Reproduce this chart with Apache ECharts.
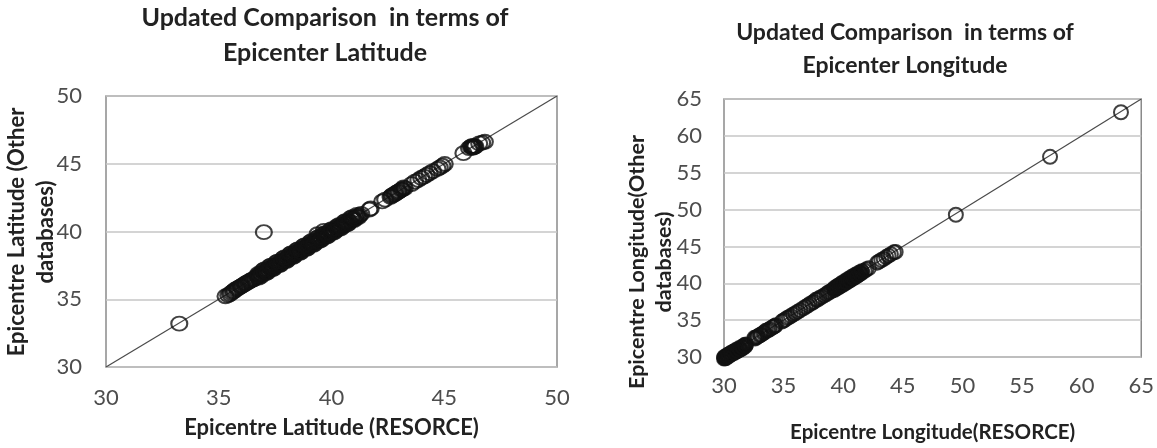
<!DOCTYPE html>
<html>
<head>
<meta charset="utf-8">
<script src="https://cdn.jsdelivr.net/npm/echarts@6/dist/echarts.min.js"></script>
<style>
	html, body {margin: 0; padding: 0; background: #ffffff;}
	#main {width: 1157px; height: 448px;}
</style>
</head>
<body>
<div id="main"></div>
<script>
// latitude comparison (RESORCE vs other databases)
var latResorce = [33.25, 35.30, 35.42, 35.55, 35.63, 35.71, 35.80, 35.88, 35.97, 36.05, 36.14, 36.22, 36.31, 36.40, 36.52, 36.63,
	36.71, 36.76, 36.80, 36.86, 36.91, 36.97, 37.00, 37.03, 37.08, 37.13, 37.18, 37.22, 37.27, 37.33, 37.38, 37.42, 37.48, 37.53,
	37.57, 37.63, 37.68, 37.72, 37.78, 37.83, 37.88, 37.93, 37.98, 38.03, 38.08, 38.13, 38.18, 38.23, 38.28, 38.33, 38.38, 38.43,
	38.48, 38.53, 38.58, 38.63, 38.68, 38.73, 38.78, 38.83, 38.88, 38.93, 38.98, 39.03, 39.08, 39.13, 39.18, 39.23, 39.28, 39.33,
	39.38, 39.40, 39.46, 39.52, 39.58, 39.66, 39.64, 39.70, 39.76, 39.82, 39.88, 39.94, 40.00, 40.06, 40.12, 40.18, 40.24, 40.30,
	40.36, 40.42, 40.48, 40.55, 40.62, 40.68, 40.75, 40.82, 40.90, 40.98, 41.06, 41.15, 41.25, 41.68, 41.74, 42.25, 42.38, 42.62,
	42.70, 42.78, 42.85, 42.92, 43.00, 43.08, 43.15, 43.25, 43.55, 43.70, 43.85, 43.98, 44.10, 44.22, 44.35, 44.50, 44.70, 44.80,
	44.92, 45.02, 45.85, 46.10, 46.18, 46.25, 46.30, 46.38, 46.55, 46.68, 46.80,
	36.78, 36.95, 37.10, 37.25, 37.40, 37.55, 37.70, 37.85, 38.00, 38.15, 38.30, 38.45, 38.60, 38.75, 38.90, 39.05, 39.20, 39.35,
	39.50, 39.65, 39.80, 39.95, 40.10, 40.25, 40.40, 40.55, 40.70, 40.85, 41.00, 41.12, 41.20, 41.32,
	42.66, 42.82, 42.96, 43.12, 43.20, 46.22, 46.34, 46.28,
	35.50, 35.67, 35.83, 36.00, 36.18, 36.35, 36.46, 36.58,
	36.74, 36.88, 37.02, 37.16, 37.30, 37.45, 37.60, 37.75, 37.90, 38.05, 38.20, 38.35, 38.50, 38.65, 38.80, 38.95, 39.10, 39.25,
	39.42, 39.56, 39.72, 39.86, 40.02, 40.16, 40.32, 40.46, 40.62, 40.76, 40.92, 41.05];
var latOther = [33.20, 35.22, 35.30, 35.48, 35.55, 35.70, 35.74, 35.86, 35.93, 36.02, 36.10, 36.21, 36.26, 36.38, 36.45, 36.60,
	36.66, 36.80, 36.72, 36.90, 36.85, 36.99, 39.95, 36.96, 37.10, 37.05, 37.20, 37.14, 37.30, 37.25, 37.41, 37.36, 37.50, 37.45,
	37.60, 37.55, 37.71, 37.66, 37.80, 37.76, 37.91, 37.86, 38.00, 37.96, 38.11, 38.05, 38.20, 38.16, 38.31, 38.26, 38.40, 38.36,
	38.51, 38.45, 38.60, 38.56, 38.71, 38.66, 38.80, 38.76, 38.91, 38.85, 39.00, 38.96, 39.11, 39.05, 39.20, 39.16, 39.30, 39.26,
	39.80, 39.40, 39.36, 39.55, 39.50, 40.05, 39.66, 39.62, 39.78, 39.75, 39.90, 39.86, 40.02, 39.98, 40.14, 40.10, 40.26, 40.22,
	40.38, 40.35, 40.50, 40.46, 40.63, 40.60, 40.76, 40.74, 40.91, 40.90, 41.05, 41.10, 41.20, 41.62, 41.70, 42.22, 42.35, 42.55,
	42.68, 42.72, 42.84, 42.88, 42.98, 43.05, 43.12, 43.20, 43.50, 43.68, 43.80, 43.95, 44.05, 44.18, 44.30, 44.45, 44.62, 44.72,
	44.85, 44.98, 45.78, 46.15, 46.25, 46.20, 46.32, 46.28, 46.50, 46.55, 46.62,
	36.60, 37.12, 36.92, 37.42, 37.22, 37.72, 37.52, 38.02, 37.82, 38.32, 38.12, 38.62, 38.42, 38.92, 38.72, 39.22, 39.02, 39.52,
	39.32, 39.82, 39.62, 40.12, 39.92, 40.40, 40.22, 40.70, 40.52, 41.00, 40.84, 41.22, 41.06, 41.30,
	42.62, 42.78, 42.93, 43.10, 43.26, 46.30, 46.24, 46.18,
	35.38, 35.60, 35.80, 35.96, 36.16, 36.32, 36.42, 36.50,
	36.86, 36.70, 37.20, 36.98, 37.48, 37.28, 37.78, 37.58, 38.08, 37.88, 38.38, 38.18, 38.68, 38.48, 38.98, 38.78, 39.28, 39.08,
	39.58, 39.40, 39.88, 39.70, 40.18, 40.00, 40.46, 40.30, 40.76, 40.60, 41.06, 40.94];

// longitude comparison
var lonResorce = [30.00, 30.04, 30.08, 30.12, 30.16, 30.20, 30.25, 30.30, 30.35, 30.40, 30.45, 30.50, 30.55, 30.60, 30.66, 30.72,
	30.78, 30.84, 30.90, 30.96, 31.02, 31.08, 31.14, 31.20, 31.27, 31.34, 31.41, 31.48, 31.56, 31.65, 31.75, 31.85,
	32.55, 32.70, 32.85, 33.00, 33.15, 33.30, 33.50, 33.65, 33.85, 34.05, 34.25,
	34.85, 35.00, 35.15, 35.30, 35.45, 35.60, 35.80, 36.00, 36.20, 36.40,
	36.65, 36.85, 37.05, 37.20, 37.40, 37.55, 37.70, 37.85, 38.00, 38.20, 38.40, 38.60, 38.75, 38.90, 39.05,
	39.20, 39.30, 39.40, 39.50, 39.60, 39.70, 39.80, 39.90, 40.00, 40.10, 40.20, 40.30, 40.40, 40.50, 40.60, 40.70, 40.80, 40.90,
	41.00, 41.10, 41.20, 41.30, 41.45, 41.60, 41.80, 41.95, 42.15, 42.85, 43.00, 43.20, 43.40, 43.60, 43.80, 44.00, 44.25, 44.40,
	49.45, 57.35, 63.30,
	30.02, 30.14, 30.28, 30.38, 30.52, 30.62, 30.76, 30.88, 31.00, 31.12, 31.25, 31.38, 31.52, 31.62, 31.72, 31.80,
	39.25, 39.45, 39.55, 39.75, 39.85, 40.05, 40.15, 40.35, 40.45, 40.65, 40.75, 40.95, 41.05, 41.25, 41.35, 41.50,
	32.60, 32.78, 33.08, 33.40, 33.75, 34.15, 34.35,
	39.28, 39.48, 39.65, 39.82, 39.98, 40.12, 40.28, 40.42, 40.58, 40.72, 40.88, 41.02, 41.18, 41.40, 41.55];
var lonOther = [29.80, 29.90, 29.85, 30.00, 29.95, 30.10, 30.05, 30.20, 30.15, 30.30, 30.25, 30.40, 30.35, 30.50, 30.46, 30.60,
	30.56, 30.70, 30.66, 30.80, 30.78, 30.90, 30.88, 31.00, 31.00, 31.10, 31.10, 31.22, 31.30, 31.42, 31.55, 31.70,
	32.60, 32.65, 32.80, 32.95, 33.10, 33.25, 33.55, 33.60, 33.80, 34.00, 34.20,
	34.80, 34.95, 35.10, 35.30, 35.40, 35.55, 35.75, 35.95, 36.15, 36.35,
	36.60, 36.80, 37.00, 37.20, 37.35, 37.50, 37.75, 37.80, 38.00, 38.15, 38.35, 38.55, 38.75, 38.85, 39.00,
	39.15, 39.25, 39.35, 39.45, 39.55, 39.65, 39.75, 39.85, 39.95, 40.05, 40.15, 40.25, 40.35, 40.45, 40.55, 40.65, 40.75, 40.85,
	40.95, 41.05, 41.15, 41.25, 41.40, 41.55, 41.70, 41.90, 42.05, 42.80, 42.95, 43.15, 43.30, 43.55, 43.75, 43.95, 44.20, 44.25,
	49.30, 57.15, 63.20,
	30.00, 29.82, 30.28, 30.10, 30.50, 30.36, 30.72, 30.58, 30.96, 30.80, 31.18, 31.00, 31.40, 31.24, 31.62, 31.48,
	39.35, 39.30, 39.68, 39.62, 40.00, 39.92, 40.30, 40.22, 40.62, 40.52, 40.92, 40.82, 41.20, 41.12, 41.48, 41.35,
	32.50, 32.72, 33.00, 33.35, 33.70, 34.10, 34.30,
	39.10, 39.55, 39.50, 39.90, 39.80, 40.20, 40.10, 40.50, 40.40, 40.80, 40.70, 41.10, 41.00, 41.30, 41.62];

var latTicks = [30, 35, 40, 45, 50];
var lonTicks = [30, 35, 40, 45, 50, 55, 60, 65];

var FONT = 'Lato, "Open Sans", sans-serif';

function pairs(xs, ys){
	var out = [];
	for (var i=0; i<xs.length; i++){
		out.push([xs[i], ys[i]]);
	}
	return out;
}

function valueAxis(gridIndex, ticks, isX, margin){
	return {
		type: 'value',
		gridIndex: gridIndex,
		min: ticks[0],
		max: ticks[ticks.length-1],
		interval: ticks[1]-ticks[0],
		axisLine: {show: false},
		axisTick: {show: false},
		axisLabel: {color: '#4d4d4d', fontFamily: FONT, fontSize: 22, margin: margin},
		splitLine: {show: !isX, lineStyle: {color: '#c6c6c6', width: 1.5}}
	};
}

function yTitle(text, x, y, size){
	return {type: 'text', x: x, y: y, rotation: Math.PI/2,
		style: {text: text, font: 'bold ' + size + 'px ' + FONT, fill: '#222', align: 'center', verticalAlign: 'middle'}};
}

var circleStyle = {color: 'transparent', borderColor: '#111', borderWidth: 2};
var diagStyle = {color: '#4a4a4a', width: 1.2};

var chart = echarts.init(document.getElementById('main'));
var option = {
	animation: false,
	title: [
		{
			text: 'Updated Comparison  in terms of\nEpicenter Latitude',
			left: 325, top: 0, textAlign: 'center', padding: 0,
			textStyle: {fontFamily: FONT, fontSize: 25, fontWeight: 'bold', color: '#222', lineHeight: 35}
		},
		{
			text: 'Updated Comparison  in terms of\nEpicenter Longitude',
			left: 905, top: 16, textAlign: 'center', padding: 0,
			textStyle: {fontFamily: FONT, fontSize: 23, fontWeight: 'bold', color: '#222', lineHeight: 33}
		}
	],
	grid: [
		{left: 106, top: 96, width: 451, height: 271, show: true, borderColor: '#8a8a8a', borderWidth: 1.5},
		{left: 724, top: 99, width: 423, height: 262, show: true, borderColor: '#8a8a8a', borderWidth: 1.5}
	],
	xAxis: [
		Object.assign(valueAxis(0, latTicks, true, 20), {
			name: 'Epicentre Latitude (RESORCE)', nameLocation: 'middle', nameGap: 50,
			nameTextStyle: {fontFamily: FONT, fontSize: 22, fontWeight: 'bold', color: '#222'}
		}),
		Object.assign(valueAxis(1, lonTicks, true, 18), {
			name: 'Epicentre Longitude(RESORCE)', nameLocation: 'middle', nameGap: 65,
			nameTextStyle: {fontFamily: FONT, fontSize: 20.5, fontWeight: 'bold', color: '#222'}
		})
	],
	yAxis: [
		valueAxis(0, latTicks, false, 24),
		valueAxis(1, lonTicks, false, 22)
	],
	graphic: [
		yTitle('Epicentre Latitude (Other', 17, 232, 22),
		yTitle('databases)', 46, 232, 22),
		yTitle('Epicentre Longitude(Other', 637, 262, 21.5),
		yTitle('databases)', 664, 262, 21.5)
	],
	series: [
		{
			type: 'line', xAxisIndex: 0, yAxisIndex: 0,
			data: [[latTicks[0], latTicks[0]], [latTicks[latTicks.length-1], latTicks[latTicks.length-1]]],
			showSymbol: false, lineStyle: diagStyle, z: 1
		},
		{
			type: 'scatter', xAxisIndex: 0, yAxisIndex: 0, clip: false,
			data: pairs(latResorce, latOther),
			symbol: 'circle', symbolSize: [16, 14], itemStyle: circleStyle, z: 2
		},
		{
			type: 'line', xAxisIndex: 1, yAxisIndex: 1,
			data: [[lonTicks[0], lonTicks[0]], [lonTicks[lonTicks.length-1], lonTicks[lonTicks.length-1]]],
			showSymbol: false, lineStyle: diagStyle, z: 1
		},
		{
			type: 'scatter', xAxisIndex: 1, yAxisIndex: 1, clip: false,
			data: pairs(lonResorce, lonOther),
			symbol: 'circle', symbolSize: 14, itemStyle: circleStyle, z: 2
		}
	]
};
chart.setOption(option);
</script>
</body>
</html>
